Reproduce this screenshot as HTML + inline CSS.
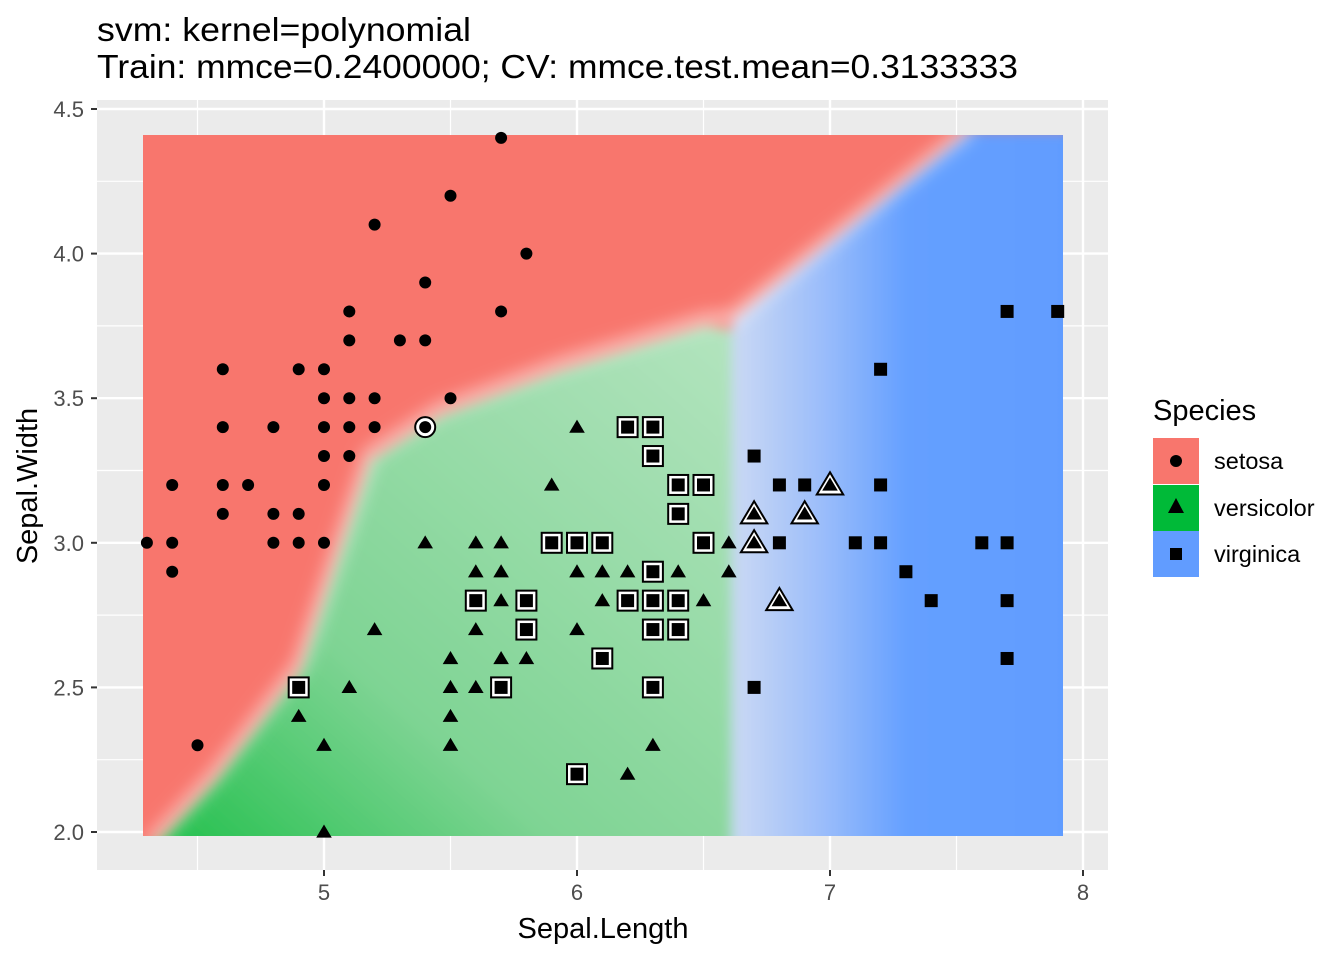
<!DOCTYPE html>
<html><head><meta charset="utf-8"><style>
body{margin:0;background:#fff;font-family:"Liberation Sans",sans-serif}
</style></head><body>
<svg id="chart" width="1344" height="960" xmlns="http://www.w3.org/2000/svg">
<defs>
<linearGradient id="gG" x1="0" y1="1" x2="1" y2="0"><stop offset="0" stop-color="#1fbf4a"/><stop offset="0.35" stop-color="#7fd494"/><stop offset="1" stop-color="#b4e4bf"/></linearGradient>
<linearGradient id="bG" x1="0" y1="0" x2="1" y2="0"><stop offset="0" stop-color="#cbd9f4"/><stop offset="0.25" stop-color="#9dbefa"/><stop offset="0.5" stop-color="#65a0ff"/><stop offset="1" stop-color="#619cff"/></linearGradient>
<filter id="blur"><feGaussianBlur stdDeviation="6"/></filter>
<filter id="blur2"><feGaussianBlur stdDeviation="8"/></filter>
<clipPath id="rc"><rect x="143" y="135" width="920" height="701"/></clipPath>
</defs>
<rect x="97" y="100" width="1011" height="770" fill="#EBEBEB"/>
<g id="grid"></g>
<g clip-path="url(#rc)">
<rect x="143" y="135" width="920" height="701" fill="#F8766D"/>
<g filter="url(#blur)">
<polygon fill="url(#gG)" points="150,850 215,780 300,670 325,595 370,460 440,415 560,370 705,325 732,330 732,720 748,850"/>
<polygon fill="url(#bG)" points="732,850 732,320 970,130 1080,130 1080,850"/>
</g>
<polyline filter="url(#blur2)" fill="none" stroke="rgba(255,255,255,0.45)" stroke-width="16" points="150,845 215,775 300,665 325,590 370,455 440,410 560,365 705,320 732,318 970,128"/>
</g>
<g id="axes"></g>
<g id="points"></g>
<text x="97" y="41" font-size="33" textLength="374" lengthAdjust="spacingAndGlyphs" fill="#000">svm: kernel=polynomial</text>
<text x="97" y="78" font-size="33" textLength="921" lengthAdjust="spacingAndGlyphs" fill="#000">Train: mmce=0.2400000; CV: mmce.test.mean=0.3133333</text>
<text x="603" y="938" font-size="29" text-anchor="middle">Sepal.Length</text>
<text transform="translate(37,486) rotate(-90)" font-size="29" text-anchor="middle">Sepal.Width</text>
<g>
<text x="1153" y="420" font-size="29">Species</text>
<rect x="1153" y="438" width="46" height="46" fill="#F8766D"/>
<circle cx="1176" cy="461" r="6" fill="#000"/>
<text x="1214" y="469" font-size="23.5">setosa</text>
<rect x="1153" y="485" width="46" height="46" fill="#00BA38"/>
<polygon points="1176,498 1184,513 1168,513" fill="#000"/>
<text x="1214" y="516" font-size="23.5">versicolor</text>
<rect x="1153" y="531" width="46" height="46" fill="#619CFF"/>
<rect x="1170" y="548" width="12" height="12" fill="#000"/>
<text x="1214" y="562" font-size="23.5">virginica</text>
</g>
</svg>
<script>
const xTicks=[5,6,7,8];
const yTicks=[2.0,2.5,3.0,3.5,4.0,4.5];
const setosa=[[5.7,4.4],[5.5,4.2],[5.2,4.1],[5.8,4.0],[5.4,3.9],[5.1,3.8],[5.7,3.8],[5.1,3.7],[5.3,3.7],[5.4,3.7],[4.6,3.6],[4.9,3.6],[5.0,3.6],[5.0,3.5],[5.1,3.5],[5.2,3.5],[5.5,3.5],[4.6,3.4],[4.8,3.4],[5.0,3.4],[5.1,3.4],[5.2,3.4],[5.0,3.3],[5.1,3.3],[4.4,3.2],[4.6,3.2],[4.7,3.2],[5.0,3.2],[4.6,3.1],[4.8,3.1],[4.9,3.1],[4.3,3.0],[4.4,3.0],[4.8,3.0],[4.9,3.0],[5.0,3.0],[4.4,2.9],[4.5,2.3]];
const setosaErr=[[5.4,3.4]];
const versicolor=[[6.0,3.4],[5.9,3.2],[5.4,3.0],[5.6,3.0],[5.7,3.0],[6.6,3.0],[5.6,2.9],[5.7,2.9],[6.0,2.9],[6.1,2.9],[6.2,2.9],[6.4,2.9],[6.6,2.9],[5.7,2.8],[6.1,2.8],[6.5,2.8],[5.2,2.7],[5.6,2.7],[6.0,2.7],[5.5,2.6],[5.7,2.6],[5.8,2.6],[5.1,2.5],[5.5,2.5],[5.6,2.5],[4.9,2.4],[5.5,2.4],[5.0,2.3],[5.5,2.3],[6.3,2.3],[6.2,2.2],[5.0,2.0]];
const versicolorErr=[[6.7,3.1],[6.7,3.0],[6.9,3.1],[7.0,3.2],[6.8,2.8]];
const virginica=[[7.7,3.8],[7.9,3.8],[7.2,3.6],[6.7,3.3],[6.8,3.2],[6.9,3.2],[7.2,3.2],[6.8,3.0],[7.1,3.0],[7.2,3.0],[7.6,3.0],[7.7,3.0],[7.3,2.9],[7.4,2.8],[7.7,2.8],[7.7,2.6],[6.7,2.5]];
const virginicaErr=[[6.2,3.4],[6.3,3.4],[6.3,3.3],[6.4,3.2],[6.5,3.2],[6.4,3.1],[5.9,3.0],[6.0,3.0],[6.1,3.0],[6.5,3.0],[6.3,2.9],[5.6,2.8],[5.8,2.8],[6.2,2.8],[6.3,2.8],[6.4,2.8],[5.8,2.7],[6.3,2.7],[6.4,2.7],[6.1,2.6],[4.9,2.5],[5.7,2.5],[6.3,2.5],[6.0,2.2]];
const X=v=>324+(v-5)*253, Y=v=>832-(v-2)*289.2;
const NS="http://www.w3.org/2000/svg";
function mk(t,a,p){const e=document.createElementNS(NS,t);for(const k in a)e.setAttribute(k,a[k]);p.appendChild(e);return e;}
const grid=document.getElementById('grid'),axes=document.getElementById('axes'),pts=document.getElementById('points');
[4.5,5.5,6.5,7.5].forEach(v=>{const l=mk('line',{x1:X(v),x2:X(v),y1:100,y2:870,stroke:'#fff','stroke-width':1.2},grid);

});
[2.25,2.75,3.25,3.75,4.25].forEach(v=>{const l=mk('line',{x1:97,x2:1108,y1:Y(v),y2:Y(v),stroke:'#fff','stroke-width':1.2},grid);

});
xTicks.forEach(v=>{const l=mk('line',{x1:X(v),x2:X(v),y1:100,y2:870,stroke:'#fff','stroke-width':2.4},grid);


mk('line',{x1:X(v),x2:X(v),y1:870,y2:876,stroke:'#333','stroke-width':2},axes);
const t=mk('text',{x:X(v),y:900,'font-size':22,fill:'#4d4d4d','text-anchor':'middle'},axes);t.textContent=v;

});
yTicks.forEach(v=>{const l=mk('line',{x1:97,x2:1108,y1:Y(v),y2:Y(v),stroke:'#fff','stroke-width':2.4},grid);


mk('line',{x1:91,x2:97,y1:Y(v),y2:Y(v),stroke:'#333','stroke-width':2},axes);
const t=mk('text',{x:84,y:Y(v)+8,'font-size':22,fill:'#4d4d4d','text-anchor':'end'},axes);t.textContent=v.toFixed(1);

});
function shape(kind,cx,cy,s,fill,stroke,sw){
 if(kind==='c')return mk('circle',{cx,cy,r:s,fill,stroke,'stroke-width':sw},pts);
 if(kind==='s')return mk('rect',{x:cx-s,y:cy-s,width:2*s,height:2*s,fill,stroke,'stroke-width':sw},pts);
 const h=s*1.15;return mk('polygon',{points:`${cx},${cy-h} ${cx+s*1.2},${cy+h*0.75} ${cx-s*1.2},${cy+h*0.75}`,fill,stroke,'stroke-width':sw},pts);
}
function draw(arr,kind,err,name){arr.forEach(d=>{const cx=X(d[0]),cy=Y(d[1]);
 if(err){const o=shape(kind,cx,cy,kind==='t'?11:10,'#fff','#000',2);
 
 }
 const e=shape(kind,cx,cy,kind==='c'?6:6.5,'#000','none',0);
 
 });}
draw(setosaErr,'c',true,'setosa');draw(setosa,'c',false,'setosa');
draw(versicolorErr,'t',true,'versicolor');draw(versicolor,'t',false,'versicolor');
draw(virginicaErr,'s',true,'virginica');draw(virginica,'s',false,'virginica');
</script>
</body></html>
